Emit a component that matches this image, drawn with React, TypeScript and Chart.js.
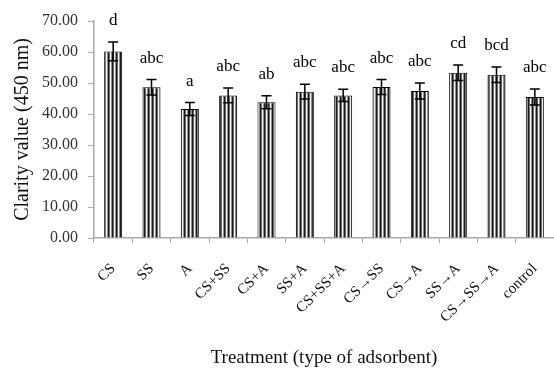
import React, { useEffect, useRef } from "react";
import { Chart, registerables } from "chart.js";

Chart.register(...registerables);

const categories = ["CS", "SS", "A", "CS+SS", "CS+A", "SS+A", "CS+SS+A", "CS→SS", "CS→A", "SS→A", "CS→SS→A", "control"];
const values = [60.2, 48.6, 41.6, 46.0, 43.8, 47.2, 46.0, 48.7, 47.4, 53.3, 52.7, 45.5];
const errors = [3.0, 2.5, 2.1, 2.4, 2.1, 2.4, 2.0, 2.4, 2.6, 2.5, 2.5, 2.6];
const letters = ["d", "abc", "a", "abc", "ab", "abc", "abc", "abc", "abc", "cd", "bcd", "abc"];
const yTicks = [0, 10, 20, 30, 40, 50, 60, 70];

function makePattern(): CanvasPattern | string {
  const c = document.createElement("canvas");
  c.width = 4;
  c.height = 4;
  const ctx = c.getContext("2d");
  if (!ctx) return "#555";
  ctx.fillStyle = "#ffffff";
  ctx.fillRect(0, 0, 4, 4);
  ctx.fillStyle = "#1a1a1a";
  ctx.fillRect(0, 0, 1, 4);
  ctx.fillStyle = "#6a6a6a";
  ctx.fillRect(1, 0, 1, 4);
  ctx.fillStyle = "#f4f4f4";
  ctx.fillRect(2, 0, 1, 4);
  ctx.fillStyle = "#909090";
  ctx.fillRect(3, 0, 1, 4);
  const p = ctx.createPattern(c, "repeat");
  return p || "#555";
}

const errorBarPlugin = {
  id: "errorBars",
  afterDatasetsDraw(chart: any) {
    const ctx = chart.ctx;
    const meta = chart.getDatasetMeta(0);
    const y = chart.scales.y;
    ctx.save();
    ctx.strokeStyle = "#000";
    ctx.lineWidth = 1.5;
    meta.data.forEach((bar: any, i: number) => {
      const x = bar.x;
      const top = y.getPixelForValue(values[i] + errors[i]);
      const bot = y.getPixelForValue(values[i] - errors[i]);
      const hw = 5;
      ctx.beginPath();
      ctx.moveTo(x, top);
      ctx.lineTo(x, bot);
      ctx.moveTo(x - hw, top);
      ctx.lineTo(x + hw, top);
      ctx.moveTo(x - hw, bot);
      ctx.lineTo(x + hw, bot);
      ctx.stroke();
      ctx.fillStyle = "#000";
      ctx.font = "17px 'Liberation Serif', serif";
      ctx.textAlign = "center";
      ctx.textBaseline = "alphabetic";
      ctx.fillText(letters[i], x, top - 17);
    });
    ctx.restore();
  },
};

export default function App() {
  const ref = useRef<HTMLCanvasElement | null>(null);
  useEffect(() => {
    if (!ref.current) return;
    const chart = new Chart(ref.current, {
      type: "bar",
      data: {
        labels: categories,
        datasets: [
          {
            data: values,
            backgroundColor: makePattern() as any,
            borderColor: "#000",
            borderWidth: 1,
            barPercentage: 0.47,
            categoryPercentage: 1,
          },
        ],
      },
      options: {
        animation: false,
        responsive: false,
        maintainAspectRatio: false,
        layout: { padding: { top: 21, right: 0, left: 11, bottom: 4 } },
        plugins: { legend: { display: false }, tooltip: { enabled: false } },
        scales: {
          x: {
            offset: true,
            border: { color: "#aaa", width: 1.5 },
            grid: { offset: true, drawOnChartArea: false, tickLength: 5, color: "#aaa" },
            ticks: {
              minRotation: 45,
              maxRotation: 45,
              color: "#111",
              font: { family: "'Liberation Serif', serif", size: 15 },
              padding: 17,
            },
            title: {
              display: true,
              text: "Treatment (type of adsorbent)",
              color: "#111",
              font: { family: "'Liberation Serif', serif", size: 19 },
              padding: { top: 8, bottom: 0 },
            },
            afterFit(scale: any) {
              scale.height = 131;
              scale.paddingLeft = 0;
              scale.paddingRight = 0;
            },
          },
          y: {
            min: 0,
            max: 70,
            border: { color: "#aaa", width: 1.5 },
            grid: { drawOnChartArea: false, tickLength: 6, color: "#aaa" },
            afterBuildTicks(scale: any) {
              scale.ticks = yTicks.map((v) => ({ value: v }));
            },
            ticks: {
              color: "#333",
              font: { family: "'Liberation Serif', serif", size: 16 },
              padding: 10,
              callback: (v: any) => Number(v).toFixed(2),
            },
            title: {
              display: true,
              text: "Clarity value (450 nm)",
              color: "#111",
              font: { family: "'Liberation Serif', serif", size: 20 },
              padding: { top: 0, bottom: 6 },
            },
            afterFit(scale: any) {
              scale.width = 83;
            },
          },
        },
      },
      plugins: [errorBarPlugin],
    });
    return () => chart.destroy();
  }, []);
  return (
    <div style={{ position: "fixed", left: 0, top: 0, width: 554, height: 373, background: "#fff" }}>
      <canvas ref={ref} width={554} height={373} style={{ width: 554, height: 373 }} />
    </div>
  );
}
